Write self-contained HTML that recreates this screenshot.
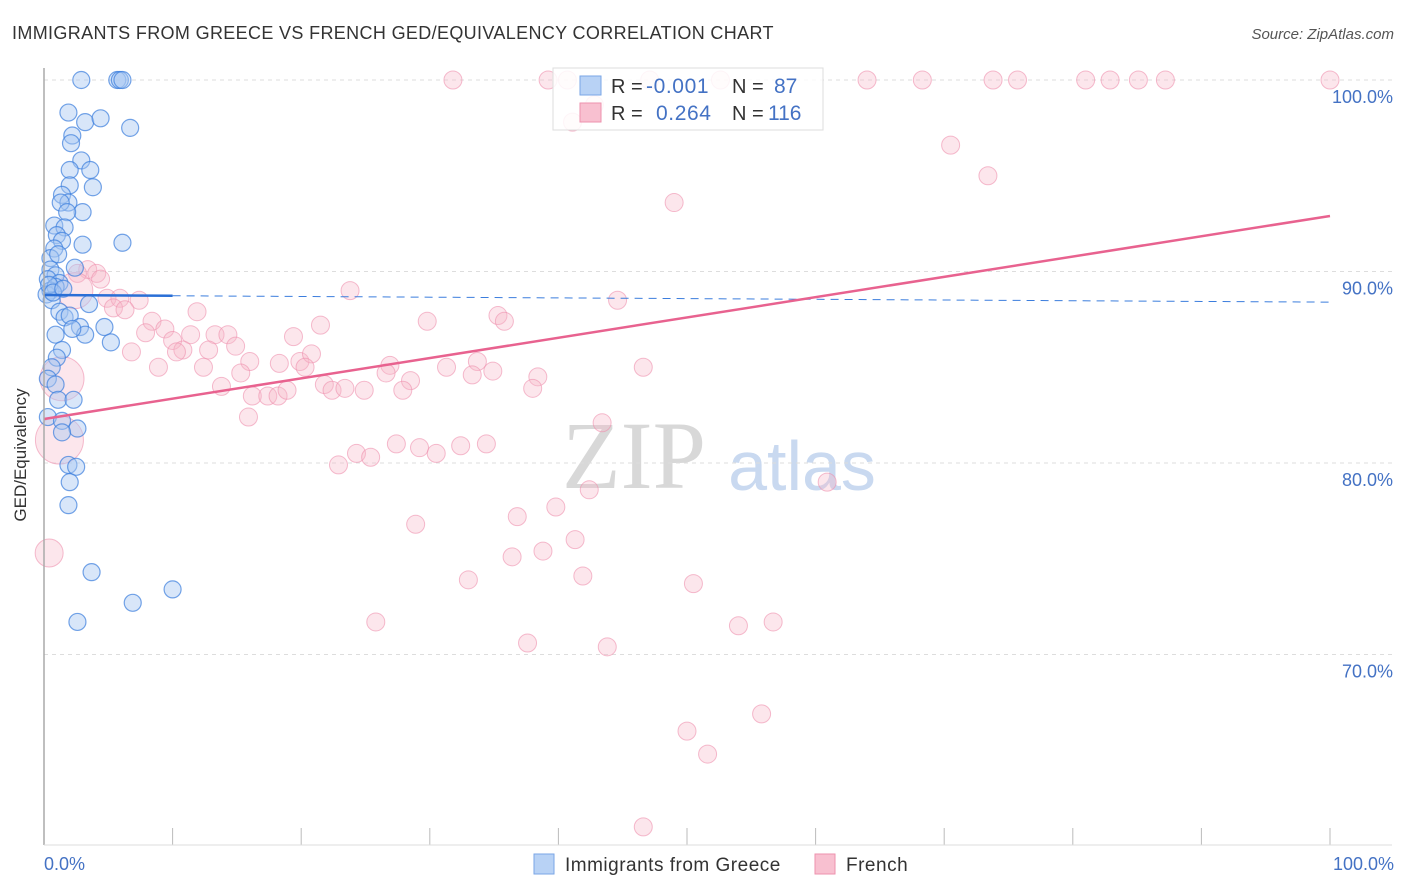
<!DOCTYPE html>
<html><head><meta charset="utf-8"><style>
body{margin:0;background:#fff;font-family:"Liberation Sans",sans-serif}
#wrap{position:relative;width:1406px;height:892px;overflow:hidden}
</style></head><body>
<div id="wrap">
<svg id="svg" width="1406" height="892" xmlns="http://www.w3.org/2000/svg">
<text x="12" y="39" font-size="18" fill="#333" letter-spacing="0.35">IMMIGRANTS FROM GREECE VS FRENCH GED/EQUIVALENCY CORRELATION CHART</text>
<text x="1394" y="39" font-size="15" fill="#555" font-style="italic" text-anchor="end">Source: ZipAtlas.com</text>
<text x="634" y="488" font-size="96" fill="#d8d8d8" font-family="Liberation Serif" text-anchor="middle">ZIP</text>
<text x="802" y="490" font-size="70" fill="#c9d9f0" text-anchor="middle">atlas</text>
<g id="grid"></g><g id="pts"></g><g id="trend"></g>
<line x1="44" y1="68" x2="44" y2="845" stroke="#aaa" stroke-width="1.5"/>
<line x1="44" y1="845" x2="1392" y2="845" stroke="#ddd" stroke-width="1"/>
<text x="26" y="455" font-size="17" fill="#333" text-anchor="middle" transform="rotate(-90 26 455)">GED/Equivalency</text>
<text x="44" y="870" font-size="18" fill="#4472c4">0.0%</text>
<text x="1394" y="870" font-size="18" fill="#4472c4" text-anchor="end">100.0%</text>
<g>
<rect x="553" y="68" width="270" height="62" fill="#fff" fill-opacity="0.85" stroke="#ddd"/>
<rect x="580" y="76" width="21" height="19" fill="#b8d2f5" stroke="#7aa6e6"/>
<rect x="580" y="103" width="21" height="19" fill="#f8c0d0" stroke="#ee92ae"/>
<text x="611" y="93" font-size="20" fill="#333">R = </text><text x="646" y="93" font-size="21" fill="#4472c4" letter-spacing="0.6">-0.001</text>
<text x="732" y="93" font-size="20" fill="#333">N = </text><text x="774" y="93" font-size="21" fill="#4472c4">87</text>
<text x="611" y="120" font-size="20" fill="#333">R = </text><text x="656" y="120" font-size="21" fill="#4472c4" letter-spacing="0.6">0.264</text>
<text x="732" y="120" font-size="20" fill="#333">N = </text><text x="768" y="120" font-size="21" fill="#4472c4">116</text>
</g>
<g><rect x="534" y="854" width="20" height="20" fill="#b8d2f5" stroke="#7aa6e6"/><text x="565" y="871" font-size="19" fill="#333" letter-spacing="0.5">Immigrants from Greece</text></g>
<g><rect x="815" y="854" width="20" height="20" fill="#f8c0d0" stroke="#ee92ae"/><text x="846" y="871" font-size="19" fill="#333" letter-spacing="0.5">French</text></g>
</svg>
</div>
<script>
const yTicks=[100,90,80,70];
const yTickLabels=["100.0%","90.0%","80.0%","70.0%"];
const xTickVals=[10,20,30,40,50,60,70,80,90,100];
const blueX=[2.9,5.7,5.9,6.1,1.9,3.2,4.4,6.7,2.2,2.1,2.9,2.0,3.6,2.0,3.8,1.4,1.9,1.3,3.0,1.8,0.8,1.6,1.0,1.4,3.0,6.1,0.8,0.5,1.1,0.5,2.4,0.9,0.3,1.2,0.5,0.2,0.9,0.6,3.5,1.2,1.6,2.0,2.8,3.2,4.7,0.9,5.2,1.4,1.0,0.6,0.3,0.9,1.1,2.3,0.3,1.4,2.6,1.4,1.9,2.5,2.0,1.9,3.7,6.9,10.0,2.6,0.4,0.7,1.5,2.2];
const blueY=[100,100,100,100,98.3,97.8,98.0,97.5,97.1,96.7,95.8,95.3,95.3,94.5,94.4,94.0,93.6,93.6,93.1,93.1,92.4,92.3,91.9,91.6,91.4,91.5,91.2,90.7,90.9,90.1,90.2,89.8,89.6,89.4,89.0,88.8,89.2,88.5,88.3,87.9,87.6,87.7,87.1,86.7,87.1,86.7,86.3,85.9,85.5,85.0,84.4,84.1,83.3,83.3,82.4,82.2,81.8,81.6,79.9,79.8,79.0,77.8,74.3,72.7,73.4,71.7,89.3,88.9,89.1,87.0];
const pinkX=[31.8,39.2,40.7,47.1,52.6,64.0,68.3,73.8,75.7,81.0,82.9,85.1,87.2,100,42.8,41.1,70.5,73.4,49.0,3.4,2.6,4.1,4.4,2.4,4.9,5.9,7.4,5.4,6.3,11.9,23.8,44.6,8.4,7.9,9.4,11.4,13.3,14.3,10.0,10.8,10.3,12.8,14.9,19.4,21.5,29.8,35.3,35.8,6.8,8.9,12.4,16.0,18.3,19.9,20.8,20.3,26.9,26.6,28.5,31.3,33.7,33.3,34.9,38.4,46.6,1.4,15.3,13.8,16.2,17.4,18.2,18.9,21.8,22.4,23.4,24.9,27.9,38.0,15.9,43.4,1.2,27.4,24.3,25.4,29.2,30.5,32.4,34.4,22.9,60.9,42.4,39.8,36.8,28.9,41.3,38.8,36.4,0.4,41.9,50.5,33.0,25.8,54.0,56.7,37.6,43.8,55.8,50.0,51.6,46.6];
const pinkY=[100,100,100,100,100,100,100,100,100,100,100,100,100,100,98.7,97.8,96.6,95.0,93.6,90.1,89.9,89.9,89.6,89.0,88.6,88.6,88.5,88.1,88.0,87.9,89.0,88.5,87.4,86.8,87.0,86.7,86.7,86.7,86.4,85.9,85.8,85.9,86.1,86.6,87.2,87.4,87.7,87.4,85.8,85.0,85.0,85.3,85.2,85.3,85.7,85.0,85.1,84.7,84.3,85.0,85.3,84.6,84.8,84.5,85.0,84.4,84.7,84.0,83.5,83.5,83.5,83.8,84.1,83.8,83.9,83.8,83.8,83.9,82.4,82.1,81.2,81.0,80.5,80.3,80.8,80.5,80.9,81.0,79.9,79.0,78.6,77.7,77.2,76.8,76.0,75.4,75.1,75.3,74.1,73.7,73.9,71.7,71.5,71.7,70.6,70.4,66.9,66.0,64.8,61.0];
const pinkBig={23:18,65:22,80:24,97:14};
const blueTrend=[88.77,88.4];
const blueSolidEnd=10;
const pinkTrend=[82.3,92.9];
const X=v=>44+v*12.86, Y=v=>80+(100-v)*19.15;
const NS="http://www.w3.org/2000/svg";
function mk(t,a,p){const e=document.createElementNS(NS,t);for(const k in a)e.setAttribute(k,a[k]);p.appendChild(e);return e;}
const grid=document.getElementById('grid'),pts=document.getElementById('pts'),tr=document.getElementById('trend'),svg=document.getElementById('svg');
yTicks.forEach((v,i)=>{
 const l=mk('line',{x1:44,x2:1392,y1:Y(v),y2:Y(v),stroke:'#ddd','stroke-dasharray':'4,4'},grid);
 
 
 const t=mk('text',{x:1393,y:Y(v)+23,'font-size':18,fill:'#4472c4','text-anchor':'end'},svg);
 t.textContent=yTickLabels[i];
 
 
});
xTickVals.forEach(v=>{
 const l=mk('line',{x1:X(v),x2:X(v),y1:828,y2:845,stroke:'#bbb'},grid);
 
 
});
pinkX.forEach((x,i)=>{
 const r=pinkBig[i]||9;
 const c=mk('circle',{cx:X(x),cy:Y(pinkY[i]),r:r,fill:'#f7b6c9','fill-opacity':0.35,stroke:'#ee8fae','stroke-opacity':0.6,'stroke-width':1},pts);
 
 
});
blueX.forEach((x,i)=>{
 const c=mk('circle',{cx:X(x),cy:Y(blueY[i]),r:8.5,fill:'#a9c8f2','fill-opacity':0.45,stroke:'#3b7ddd','stroke-opacity':0.7,'stroke-width':1.2},pts);
 
 
});
const by=x=>blueTrend[0]+(blueTrend[1]-blueTrend[0])*x/100;
let l=mk('line',{x1:X(blueSolidEnd),y1:Y(by(blueSolidEnd)),x2:X(100),y2:Y(by(100)),stroke:'#3b7ddd','stroke-width':1,'stroke-dasharray':'8,6'},tr);


l=mk('line',{x1:X(0),y1:Y(by(0)),x2:X(blueSolidEnd),y2:Y(by(blueSolidEnd)),stroke:'#2a6fd6','stroke-width':2.5},tr);


l=mk('line',{x1:X(0),y1:Y(pinkTrend[0]),x2:X(100),y2:Y(pinkTrend[1]),stroke:'#e8628f','stroke-width':2.5},tr);


</script>
</body></html>
